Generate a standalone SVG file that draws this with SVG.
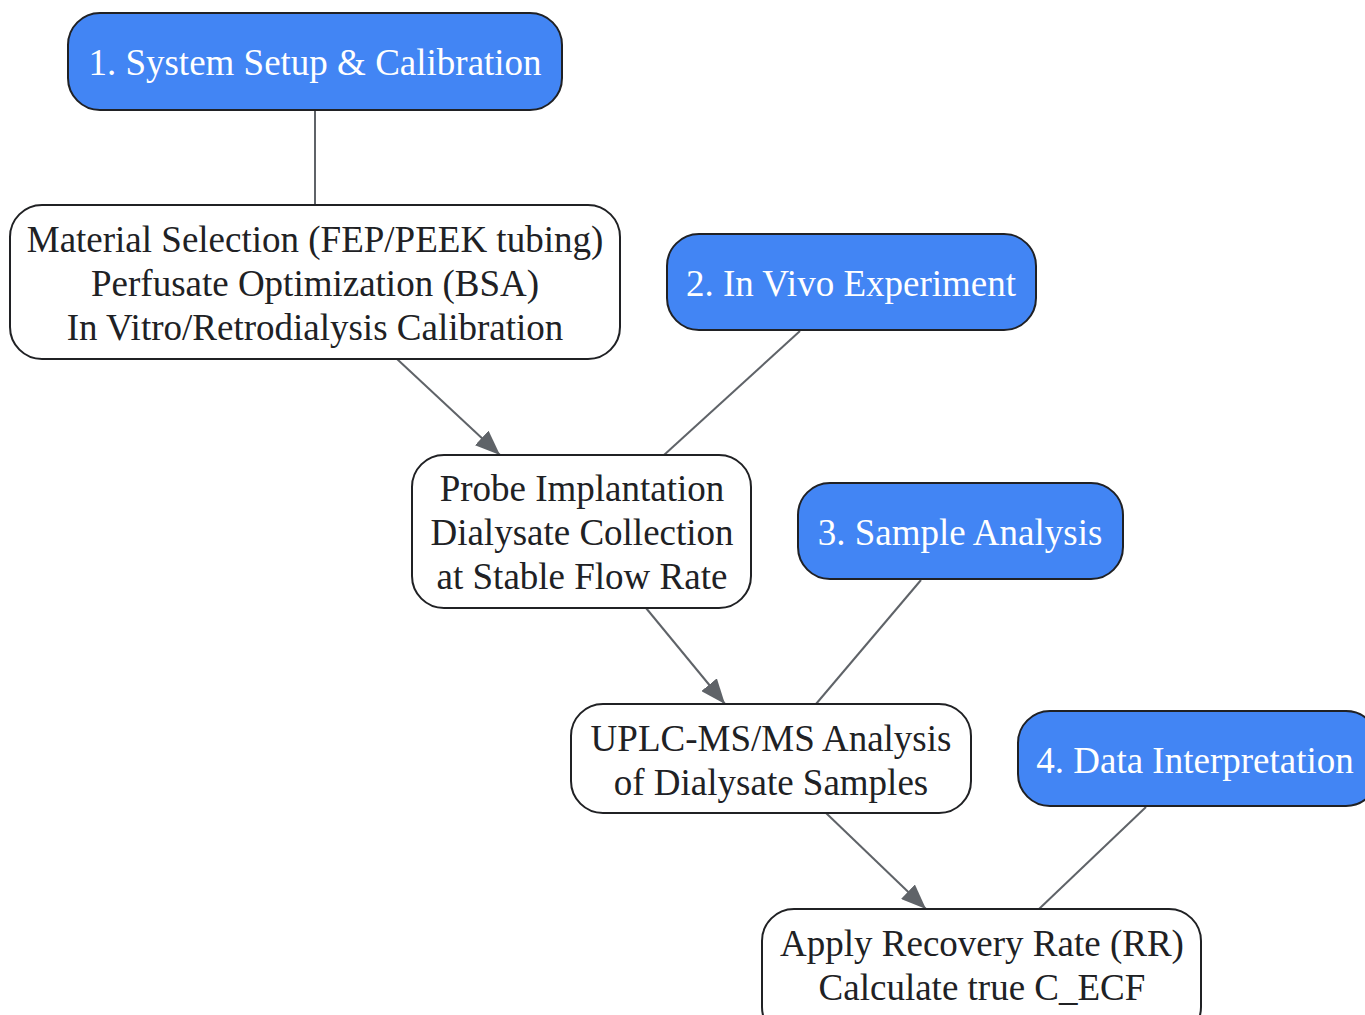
<svg xmlns="http://www.w3.org/2000/svg" width="1365" height="1015" viewBox="0 0 1365 1015">
<defs>
<marker id="arr" viewBox="0 0 10 8" refX="10" refY="4" markerWidth="25" markerHeight="20" markerUnits="userSpaceOnUse" orient="auto">
<path d="M0,0 L10,4 L0,8 z" fill="#5f6368"/>
</marker>
<style>
.blue rect{fill:#4285f4;stroke:#202124;stroke-width:2}
.white rect{fill:#ffffff;stroke:#202124;stroke-width:2}
text{font-family:"Liberation Serif","Times New Roman",serif;font-size:37px;text-anchor:middle}
.blue text{fill:#ffffff}
.white text{fill:#202124}
.edge{stroke:#5f6368;stroke-width:2;fill:none}
</style>
</defs>
<rect width="1365" height="1015" fill="#ffffff"/>
<g id="connectors">
<line class="edge" x1="315" y1="110" x2="315" y2="205"/>
<line class="edge" x1="397" y1="359" x2="500" y2="455" marker-end="url(#arr)"/>
<line class="edge" x1="800" y1="331" x2="664" y2="455"/>
<line class="edge" x1="646" y1="608" x2="725" y2="704" marker-end="url(#arr)"/>
<line class="edge" x1="921" y1="580" x2="816" y2="704"/>
<line class="edge" x1="826" y1="813" x2="926" y2="909" marker-end="url(#arr)"/>
<line class="edge" x1="1146" y1="807" x2="1039" y2="909"/>
</g>
<g id="n1" class="blue">
<rect x="68" y="13" width="494" height="97" rx="32"/>
<text x="315" y="75">1. System Setup &amp; Calibration</text>
</g>
<g id="n2" class="white">
<rect x="10" y="205" width="610" height="154" rx="32"/>
<text x="315" y="252">Material Selection (FEP/PEEK tubing)</text>
<text x="315" y="296">Perfusate Optimization (BSA)</text>
<text x="315" y="340">In Vitro/Retrodialysis Calibration</text>
</g>
<g id="n3" class="blue">
<rect x="667" y="234" width="369" height="96" rx="32"/>
<text x="851" y="296">2. In Vivo Experiment</text>
</g>
<g id="n4" class="white">
<rect x="412" y="455" width="339" height="153" rx="32"/>
<text x="582" y="501">Probe Implantation</text>
<text x="582" y="545">Dialysate Collection</text>
<text x="582" y="589">at Stable Flow Rate</text>
</g>
<g id="n5" class="blue">
<rect x="798" y="483" width="325" height="96" rx="32"/>
<text x="960" y="545">3. Sample Analysis</text>
</g>
<g id="n6" class="white">
<rect x="571" y="704" width="400" height="109" rx="32"/>
<text x="771" y="751">UPLC-MS/MS Analysis</text>
<text x="771" y="795">of Dialysate Samples</text>
</g>
<g id="n7" class="blue">
<rect x="1018" y="711" width="360" height="95" rx="32"/>
<text x="1195" y="773">4. Data Interpretation</text>
</g>
<g id="n8" class="white">
<rect x="762" y="909" width="439" height="130" rx="32"/>
<text x="982" y="956">Apply Recovery Rate (RR)</text>
<text x="982" y="1000">Calculate true C_ECF</text>
</g>
</svg>
